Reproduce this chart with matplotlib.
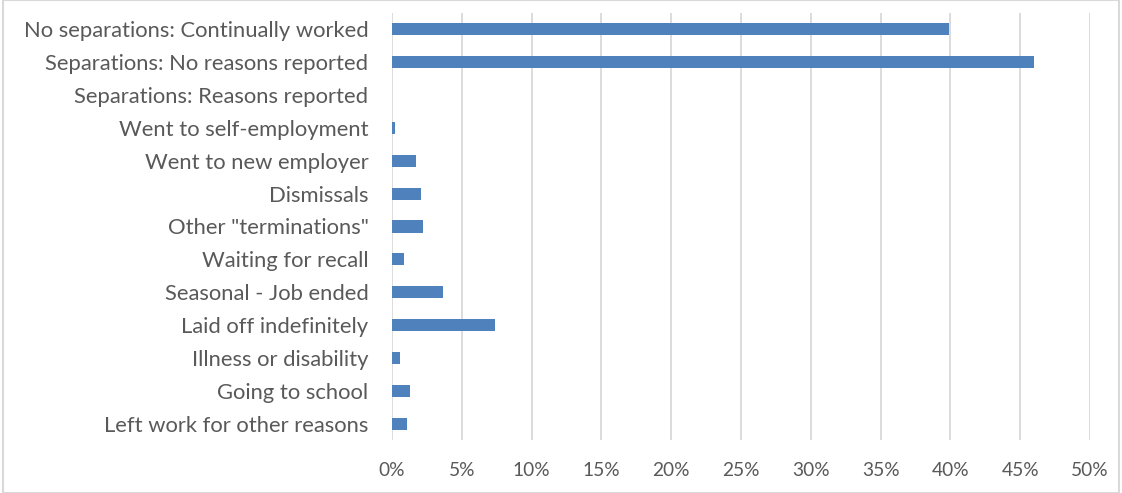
import matplotlib
matplotlib.use("Agg")
import matplotlib.pyplot as plt
from matplotlib.patches import Rectangle
from matplotlib.ticker import FuncFormatter, MultipleLocator

categories = [
    "No separations: Continually worked",
    "Separations: No reasons reported",
    "Separations: Reasons reported",
    "Went to self-employment",
    "Went to new employer",
    "Dismissals",
    'Other "terminations"',
    "Waiting for recall",
    "Seasonal - Job ended",
    "Laid off indefinitely",
    "Illness or disability",
    "Going to school",
    "Left work for other reasons",
]
shares = [39.9, 46.0, 0.0, 0.2, 1.75, 2.05, 2.25, 0.85, 3.65, 7.35, 0.6, 1.3, 1.1]

plt.rcParams["font.family"] = ["Lato", "DejaVu Sans"]
text_color = "#595959"
bar_color = "#4F81BD"
grid_color = "#D9D9D9"

fig = plt.figure(figsize=(11.22, 4.93), dpi=100)
ax = fig.add_axes([392 / 1122, 1 - 440 / 493, (1090 - 392) / 1122, (440 - 13) / 493])

ypos = list(range(len(categories)))
ax.barh(ypos, shares, height=0.37, color=bar_color, linewidth=0, zorder=3)

ax.set_xlim(0, 50)
ax.set_ylim(len(categories) - 0.5, -0.5)
ax.xaxis.set_major_locator(MultipleLocator(5))
ax.xaxis.set_major_formatter(FuncFormatter(lambda v, _: f"{v:.0f}%"))
ax.grid(axis="x", color=grid_color, linewidth=1.3, zorder=0)
ax.set_yticks(ypos)
ax.set_yticklabels(categories)

for s in ax.spines.values():
    s.set_visible(False)
ax.tick_params(axis="both", length=0, colors=text_color)
ax.tick_params(axis="y", pad=17, labelsize=15.8)
ax.tick_params(axis="x", pad=16, labelsize=13.8)

# Chart frame
fig.patches.append(Rectangle((3 / 1122, 0), 1 - 6 / 1122, 1, transform=fig.transFigure,
                             fill=False, edgecolor="#D9D9D9", linewidth=1.5))

fig.savefig("out.png", dpi=100)
